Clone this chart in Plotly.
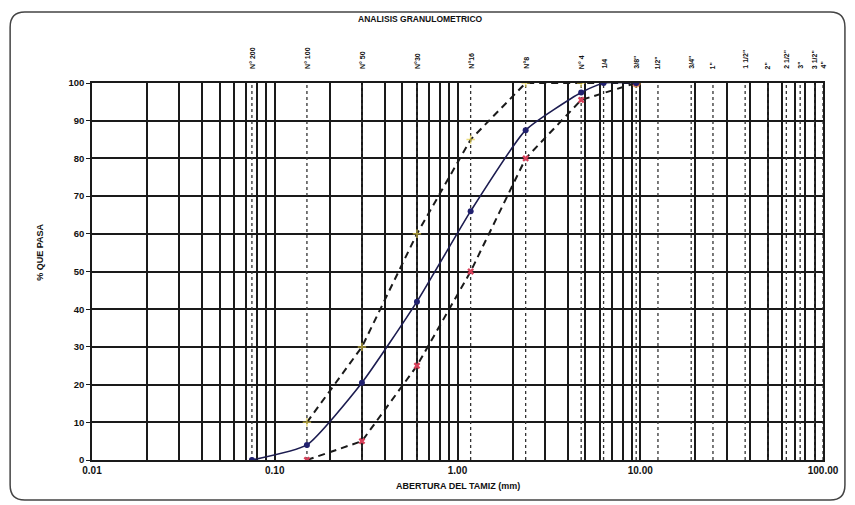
import math
import plotly.graph_objects as go

# %% data
# sieve openings (mm) and names for the dotted reference lines
sieve_mm = [0.075, 0.15, 0.3, 0.6, 1.18, 2.36, 4.75, 6.3, 9.5, 12.5, 19, 25, 37.5, 50, 63, 75, 90, 100]
sieve_name = ["N° 200", "N° 100", "N° 50", "N°30", "N°16", "N°8", "N° 4", "1/4", "3/8\"", "1/2\"",
              "3/4\"", "1\"", "1 1/2\"", "2\"", "2 1/2\"", "3\"", "3 1/2\"", "4\""]

# sample curve (solid)
muestra_x = [0.075, 0.15, 0.3, 0.6, 1.18, 2.36, 4.75, 6.3, 9.5]
muestra_y = [0, 4, 20.5, 42, 66, 87.5, 97.5, 100, 100]

# upper limit (dashed, yellow marks)
sup_x = [0.15, 0.3, 0.6, 1.18, 2.36, 4.75, 9.5]
sup_y = [10, 30, 60, 85, 100, 100, 100]

# lower limit (dashed, red marks)
inf_x = [0.15, 0.3, 0.6, 1.18, 2.36, 4.75, 9.5]
inf_y = [0, 5, 25, 50, 80, 95.5, 100]

y_ticks = [0, 10, 20, 30, 40, 50, 60, 70, 80, 90, 100]
decades = [0.01, 0.1, 1, 10, 100]
decade_labels = ["0.01", "0.10", "1.00", "10.00", "100.00"]

# %% gridline positions on the log axis (1..9 per decade)
grid_vals = []
grid_text = []
for d, lab in zip(decades[:-1], decade_labels[:-1]):
    for k in range(1, 10):
        grid_vals.append(d * k)
        grid_text.append(lab if k == 1 else "")
grid_vals.append(decades[-1])
grid_text.append(decade_labels[-1])

fig = go.Figure()

# dotted sieve lines
for s in sieve_mm:
    fig.add_trace(go.Scatter(x=[s, s], y=[0, 101.5], mode="lines",
                             line=dict(color="#333333", width=1.3, dash="dot"),
                             hoverinfo="skip", showlegend=False, cliponaxis=False))

fig.add_trace(go.Scatter(x=sup_x, y=sup_y, mode="lines+markers", name="Limite superior",
                         line=dict(color="#1a1a1a", width=2, dash="7px,5px"),
                         marker=dict(color=["#e6d04a"] * 6 + ["#d98a3a"],
                                     symbol=["cross-thin"] * 6 + ["circle-open"],
                                     size=[6] * 6 + [8], line=dict(color=["#e6d04a"] * 6 + ["#c47a30"], width=1.5))))
fig.add_trace(go.Scatter(x=inf_x, y=inf_y, mode="lines+markers", name="Limite inferior",
                         line=dict(color="#1a1a1a", width=2, dash="7px,5px"),
                         marker=dict(color="#d8405a", symbol="x", size=6)))
fig.add_trace(go.Scatter(x=muestra_x, y=muestra_y, mode="lines+markers", name="Muestra",
                         line=dict(color="#1c1c50", width=1.6, shape="spline", smoothing=0.5),
                         marker=dict(color="#20206e", size=6)))

# sieve labels above the plot (annotation x is log10 on a log axis)
for s, n in zip(sieve_mm, sieve_name):
    fig.add_annotation(x=math.log10(s), y=1, xref="x", yref="paper", text="<b>" + n + "</b>", showarrow=False,
                       textangle=-90, yanchor="bottom", xanchor="center", yshift=12,
                       font=dict(size=7, color="#111111", family="Liberation Sans"))

fig.add_annotation(x=-0.071, y=0.55, xref="paper", yref="paper", text="<b>% QUE PASA</b>",
                   showarrow=False, textangle=-90, xanchor="center", font=dict(size=9, color="#111111"))
fig.add_annotation(x=0.5, y=0, xref="paper", yref="paper", text="<b>ABERTURA DEL TAMIZ (mm)</b>",
                   showarrow=False, yshift=-33, font=dict(size=9, color="#111111"))
fig.add_annotation(x=0.45, y=1, xref="paper", yref="paper", text="<b>ANALISIS GRANULOMETRICO</b>",
                   showarrow=False, yshift=71, font=dict(size=8.5, color="#111111"))

# scanned sheet frame
x0, x1 = -0.112, 1.030
y0, y1 = -0.106, 1.188
rx, ry = 0.02, 0.04
frame = (f"M {x0+rx},{y1} L {x1-rx},{y1} Q {x1},{y1} {x1},{y1-ry} L {x1},{y0+ry} "
         f"Q {x1},{y0} {x1-rx},{y0} L {x0+rx},{y0} Q {x0},{y0} {x0},{y0+ry} L {x0},{y1-ry} "
         f"Q {x0},{y1} {x0+rx},{y1} Z")
fig.add_shape(type="path", path=frame, xref="paper", yref="paper",
              line=dict(color="#444444", width=1.5))

# page body has an 8px margin, so the figure is made 8px smaller and shifted
fig.update_layout(
    width=847, height=497,
    margin=dict(l=84, r=32, t=75, b=45),
    paper_bgcolor="white", plot_bgcolor="white",
    showlegend=False,
    font=dict(family="Liberation Sans", color="#111111"),
)
fig.update_xaxes(type="log", range=[-2, 2], tickvals=grid_vals, ticktext=grid_text,
                 showgrid=True, gridcolor="#1a1a1a", gridwidth=1.5,
                 showline=True, linecolor="#1a1a1a", linewidth=1.5, mirror=True,
                 ticks="", tickfont=dict(size=10, weight="bold"), zeroline=False)
fig.update_yaxes(range=[0, 100], tickvals=y_ticks,
                 showgrid=True, gridcolor="#1a1a1a", gridwidth=1.5,
                 showline=True, linecolor="#1a1a1a", linewidth=1.5, mirror=True,
                 ticks="outside", ticklen=4, tickcolor="#1a1a1a", tickfont=dict(size=9.5, weight="bold"),
                 zeroline=False)

fig.write_html("out.html")
